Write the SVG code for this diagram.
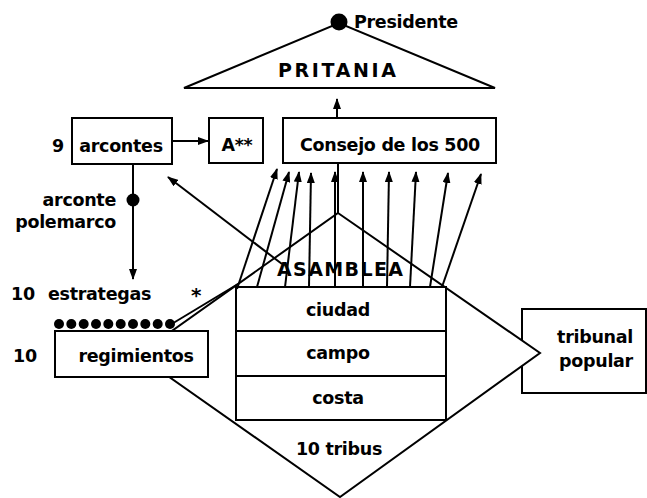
<svg xmlns="http://www.w3.org/2000/svg" width="647" height="498" viewBox="0 0 647 498">
<style>
.s{fill:none;stroke:#000;stroke-width:2}
.b{fill:#fff;stroke:#000;stroke-width:2}
.c{stroke:#000;stroke-width:2;fill:none}
.t{font-family:"DejaVu Sans","Liberation Sans",sans-serif;font-weight:bold;font-size:17.5px;letter-spacing:-0.3px;fill:#000}
.m{text-anchor:middle}
.e{text-anchor:end}
.big{font-size:19px;letter-spacing:0}
</style>
<defs>
<marker id="ah" markerWidth="11" markerHeight="8" refX="10" refY="4" orient="auto" markerUnits="userSpaceOnUse">
<path d="M0,0 L11,4 L0,8 z" fill="#000"/>
</marker>
</defs>
<rect width="647" height="498" fill="#fff"/>
<g id="pritania">
<polygon class="s" points="184,88 339,23 495,88"/>
<circle cx="339" cy="22" r="8.5" fill="#000"/>
<text class="t big m" x="337" y="77" textLength="118" lengthAdjust="spacing">PRITANIA</text>
<text class="t" x="354" y="28">Presidente</text>
</g>
<g id="tribunal">
<rect class="b" x="522" y="309" width="124" height="84"/>
<text class="t m" x="595" y="343">tribunal</text>
<text class="t m" x="596" y="367">popular</text>
</g>
<g id="asamblea">
<polygon class="b" points="338,213 540,353 340,497 138,355"/>
</g>
<g id="regimientos">
<rect class="b" x="55" y="331" width="153" height="46"/>
<text class="t m" x="136" y="362">regimientos</text>
<text class="t" x="13" y="362">10</text>
</g>
<g id="tribus">
<rect class="b" x="236" y="287" width="210" height="133"/>
<line class="s" x1="236" y1="331" x2="446" y2="331"/>
<line class="s" x1="236" y1="376" x2="446" y2="376"/>
<text class="t m" x="338" y="316">ciudad</text>
<text class="t m" x="338" y="359">campo</text>
<text class="t m" x="338" y="404">costa</text>
<text class="t m" x="339" y="455">10 tribus</text>
</g>
<g id="arcontes">
<rect class="b" x="72" y="118" width="100" height="46"/>
<text class="t m" x="121" y="152">arcontes</text>
<text class="t" x="52" y="152">9</text>
</g>
<g id="a2">
<rect class="b" x="209" y="118" width="54" height="45"/>
<text class="t m" x="237" y="151">A**</text>
</g>
<g id="consejo">
<rect class="b" x="283" y="118" width="213" height="45"/>
<text class="t m" x="390" y="151">Consejo de los 500</text>
</g>
<g id="connectors">
<line class="c" x1="337" y1="118" x2="337" y2="99" marker-end="url(#ah)"/>
<line class="c" x1="172" y1="141" x2="208" y2="141" marker-end="url(#ah)"/>
<line class="c" x1="133" y1="164" x2="133" y2="279" marker-end="url(#ah)"/>
<line class="c" x1="338" y1="163" x2="338" y2="213"/>
<line class="c" x1="282" y1="264" x2="168" y2="177" marker-end="url(#ah)"/>
<line class="c" x1="170" y1="325" x2="238" y2="284"/>
<line class="c" x1="237" y1="289" x2="277" y2="169" marker-end="url(#ah)"/>
<line class="c" x1="257" y1="287" x2="289" y2="172" marker-end="url(#ah)"/>
<line class="c" x1="285" y1="287" x2="299" y2="172" marker-end="url(#ah)"/>
<line class="c" x1="309" y1="287" x2="311" y2="173" marker-end="url(#ah)"/>
<line class="c" x1="335" y1="287" x2="335" y2="172" marker-end="url(#ah)"/>
<line class="c" x1="363" y1="287" x2="363" y2="172" marker-end="url(#ah)"/>
<line class="c" x1="387" y1="287" x2="389" y2="172" marker-end="url(#ah)"/>
<line class="c" x1="410" y1="287" x2="416" y2="172" marker-end="url(#ah)"/>
<line class="c" x1="430" y1="287" x2="448" y2="173" marker-end="url(#ah)"/>
<line class="c" x1="442" y1="287" x2="481" y2="174" marker-end="url(#ah)"/>
</g>
<g id="labels">
<circle cx="133" cy="200" r="6.5" fill="#000"/>
<text class="t e" x="116" y="206">arconte</text>
<text class="t e" x="116" y="228">polemarco</text>
<text class="t" x="11" y="300">10</text>
<text class="t" x="48" y="300">estrategas</text>
<text class="t m" x="196" y="302" style="font-size:20px">*</text>
<g fill="#000">
<circle cx="59" cy="324" r="5"/><circle cx="71.3" cy="324" r="5"/><circle cx="83.7" cy="324" r="5"/><circle cx="96" cy="324" r="5"/><circle cx="108.3" cy="324" r="5"/><circle cx="120.7" cy="324" r="5"/><circle cx="133" cy="324" r="5"/><circle cx="145.3" cy="324" r="5"/><circle cx="157.7" cy="324" r="5"/><circle cx="170" cy="324" r="5"/>
</g>
<text class="t big m" x="340" y="276" textLength="126" lengthAdjust="spacing">ASAMBLEA</text>
</g>
</svg>
